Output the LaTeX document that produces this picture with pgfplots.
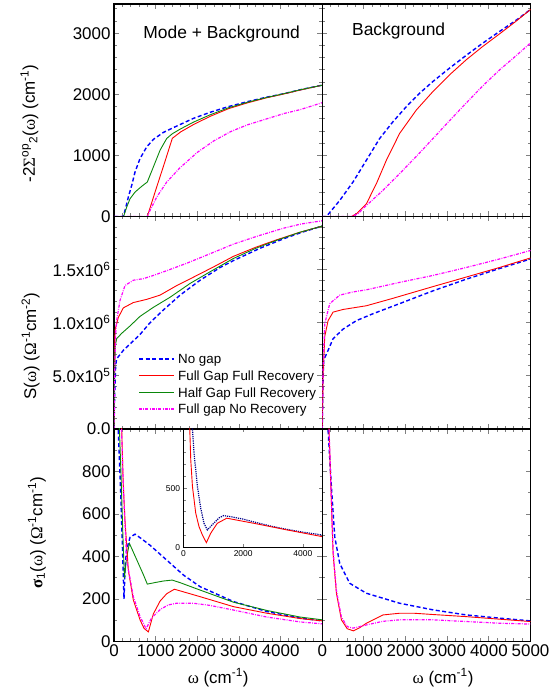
\documentclass[border=0pt]{standalone}
\usepackage{fontspec}
\setmainfont{Liberation Sans}
\newfontfamily\grk{Liberation Serif}
\usepackage{pgfplots}
\pgfplotsset{compat=1.18}

\definecolor{ngblue}{RGB}{0,0,255}
\definecolor{fgred}{RGB}{255,0,0}
\definecolor{hggreen}{RGB}{10,135,10}
\definecolor{nrmag}{RGB}{255,0,255}
\definecolor{insetblue}{RGB}{0,0,140}

\newcommand{\om}{{\grk ω}}

\tikzset{
  nogap/.style={dash pattern=on 4bp off 2.5bp, line width=1.4bp, color=ngblue, draw=ngblue},
  fullgap/.style={line width=0.9bp, color=fgred, draw=fgred},
  halfgap/.style={line width=0.9bp, color=hggreen, draw=hggreen},
  norec/.style={dash pattern=on 3bp off 1.3bp on 0.8bp off 1.3bp, line width=1.2bp, color=nrmag, draw=nrmag},
  legtext/.style={anchor=base west, inner sep=0pt, font=\fontsize{13.4}{14}\selectfont},
}

\pgfplotsset{
  panel/.style={
    scale only axis, width=208.25bp, height=212.5bp, anchor=south west,
    xmin=0, xmax=5000,
    xtick={0,1000,...,5000}, minor xtick={0,200,...,5000},
    tick align=inside, major tick length=5bp, minor tick length=3bp,
    axis line style={line width=1.1bp},
    tick style={line width=0.9bp},
    tick label style={font=\fontsize{17}{17}\selectfont},
    label style={font=\fontsize{17}{20}\selectfont},
    /pgf/number format/assume math mode=true,
    /pgf/number format/1000 sep={},
    scaled ticks=false,
    xticklabels={},
  },
}

\begin{document}
\begin{tikzpicture}
\path[use as bounding box] (0,0) rectangle (559bp,693bp);

% ---------- top left: self energy, mode + background
\begin{axis}[panel, at={(114bp,476.5bp)},
  ymin=0, ymax=3480, ytick={0,1000,2000,3000}, minor ytick={0,200,...,3400},
  ylabel={-2{\grk Σ}\textsuperscript{op}\textsubscript{2}(\om) (cm\textsuperscript{-1})},
  ylabel style={at={(axis description cs:-0.406,0.438)}, anchor=center}]
\addplot[nogap] coordinates {(0,0)(220,0)(264,99)(344,318)(425,510)(505,729)(625,949)(785,1140)(945,1262)(1185,1377)(1507,1481)(1907,1607)(2308,1706)(2748,1800)(3200,1880)(3671,1955)(4070,2010)(4500,2080)(5000,2151)};
\addplot[fullgap] coordinates {(0,0)(800,0)(1000,430)(1200,850)(1400,1280)(1600,1385)(1907,1505)(2308,1640)(2748,1765)(3200,1860)(3671,1945)(4070,2005)(4500,2075)(5000,2150)};
\addplot[halfgap] coordinates {(0,0)(230,0)(250,40)(305,153)(385,291)(505,400)(665,494)(800,565)(945,811)(1106,1086)(1266,1278)(1400,1355)(1600,1435)(1907,1545)(2308,1665)(2748,1780)(3200,1870)(3671,1950)(4070,2010)(4500,2080)(5000,2150)};
\addplot[norec] coordinates {(0,0)(800,0)(865,99)(1026,318)(1266,565)(1587,800)(2000,1050)(2400,1240)(2800,1390)(3200,1500)(3671,1600)(4100,1690)(4471,1750)(5000,1864)};
\node[font=\fontsize{17.5}{18}\selectfont] at (axis description cs:0.517,0.861) {Mode + Background};
\end{axis}

% ---------- top right: self energy, background
\begin{axis}[panel, at={(322.25bp,476.5bp)},
  ymin=0, ymax=3480, ytick={0,1000,2000,3000}, minor ytick={0,200,...,3400},
  yticklabels={}]
\addplot[nogap] coordinates {(0,0)(100,0)(420,263)(739,565)(1060,922)(1379,1278)(1698,1552)(2019,1799)(2338,2019)(2657,2211)(3057,2430)(3458,2640)(3856,2840)(4256,3030)(4657,3215)(5000,3390)};
\addplot[fullgap] coordinates {(0,0)(700,0)(820,44)(1060,209)(1300,538)(1540,922)(1858,1361)(2259,1744)(2657,2046)(3057,2320)(3458,2567)(3856,2786)(4256,2990)(4657,3200)(5000,3390)};
\addplot[norec] coordinates {(0,0)(700,0)(850,40)(1060,181)(1458,428)(1858,702)(2259,985)(2657,1275)(3057,1570)(3458,1860)(3856,2140)(4256,2400)(4657,2635)(5000,2842)};
\node[font=\fontsize{17.5}{18}\selectfont] at (axis description cs:0.367,0.874) {Background};
\end{axis}

% ---------- middle left: spectral weight
\begin{axis}[panel, at={(114bp,264bp)},
  ymin=0, ymax=2000000, ytick={0,500000,1000000,1500000},
  yticklabels={0.0,5.0x10\textsuperscript{5},1.0x10\textsuperscript{6},1.5x10\textsuperscript{6}},
  minor ytick={0,100000,...,2000000},
  ylabel={S(\om) ({\grk Ω}\textsuperscript{-1}cm\textsuperscript{-2})},
  ylabel style={at={(axis description cs:-0.401,0.39)}, anchor=center}]
\addplot[nogap] coordinates {(0,0)(15,0.3e6)(40,0.6e6)(64,0.66e6)(224,0.74e6)(385,0.80e6)(625,0.89e6)(865,1.0e6)(1185,1.12e6)(1587,1.26e6)(2067,1.40e6)(2548,1.52e6)(2868,1.585e6)(3500,1.70e6)(4070,1.79e6)(4500,1.85e6)(5000,1.91e6)};
\addplot[fullgap] coordinates {(0,0)(12,0.5e6)(24,0.93e6)(104,1.05e6)(224,1.14e6)(464,1.19e6)(785,1.22e6)(1106,1.26e6)(1507,1.35e6)(1988,1.445e6)(2387,1.525e6)(2868,1.625e6)(3400,1.71e6)(3900,1.78e6)(4450,1.85e6)(5000,1.91e6)};
\addplot[halfgap] coordinates {(0,0)(15,0.5e6)(30,0.78e6)(64,0.85e6)(184,0.90e6)(385,0.97e6)(625,1.06e6)(945,1.145e6)(1346,1.24e6)(1827,1.37e6)(2308,1.48e6)(2868,1.605e6)(3400,1.70e6)(3900,1.775e6)(4450,1.85e6)(5000,1.91e6)};
\addplot[norec] coordinates {(0,0)(20,0.6e6)(40,0.9e6)(64,1.02e6)(144,1.21e6)(264,1.35e6)(464,1.40e6)(704,1.415e6)(945,1.445e6)(1266,1.49e6)(1748,1.56e6)(2308,1.65e6)(2868,1.74e6)(3400,1.81e6)(4070,1.89e6)(4500,1.93e6)(5000,1.96e6)};
\end{axis}

% ---------- legend, drawn as a small hidden axis
\begin{axis}[at={(139bp,275.67bp)}, anchor=south west, scale only axis,
  width=35bp, height=66.67bp, xmin=0, xmax=1, ymin=-0.5, ymax=3.5,
  hide axis, clip mode=individual]
\addplot[nogap] coordinates {(0,3)(1,3)};
\addplot[fullgap] coordinates {(0,2)(1,2)};
\addplot[halfgap] coordinates {(0,1)(1,1)};
\addplot[norec] coordinates {(0,0)(1,0)};
\node[legtext] at ([xshift=4bp,yshift=-4.8bp]axis cs:1,3) {No gap};
\node[legtext] at ([xshift=4bp,yshift=-4.8bp]axis cs:1,2) {Full Gap Full Recovery};
\node[legtext] at ([xshift=4bp,yshift=-4.8bp]axis cs:1,1) {Half Gap Full Recovery};
\node[legtext] at ([xshift=4bp,yshift=-4.8bp]axis cs:1,0) {Full gap No Recovery};
\end{axis}

% ---------- middle right
\begin{axis}[panel, at={(322.25bp,264bp)},
  ymin=0, ymax=2000000, ytick={0,500000,1000000,1500000},
  minor ytick={0,100000,...,2000000}, yticklabels={}]
\addplot[nogap] coordinates {(0,0)(15,0.4e6)(36,0.65e6)(140,0.74e6)(260,0.85e6)(500,0.94e6)(820,1.02e6)(1218,1.085e6)(1858,1.18e6)(2657,1.30e6)(3458,1.41e6)(4256,1.51e6)(5000,1.60e6)};
\addplot[fullgap] coordinates {(0,0)(20,0.5e6)(60,0.87e6)(140,1.02e6)(260,1.10e6)(500,1.125e6)(1060,1.16e6)(1698,1.23e6)(2657,1.34e6)(3458,1.43e6)(4256,1.52e6)(5000,1.61e6)};
\addplot[norec] coordinates {(0,0)(20,0.6e6)(60,0.99e6)(180,1.18e6)(420,1.26e6)(739,1.29e6)(1060,1.31e6)(1858,1.38e6)(2657,1.445e6)(3458,1.52e6)(4256,1.60e6)(5000,1.68e6)};
\end{axis}

% ---------- bottom left: optical conductivity
\begin{axis}[panel, at={(114bp,51.5bp)},
  ymin=0, ymax=1000, ytick={0,200,...,800}, minor ytick={0,100,...,1000},
  xticklabels={0,1000,2000,3000,4000,{}},
  xlabel={\om{} (cm\textsuperscript{-1})},
  xlabel style={at={(axis description cs:0.5,0)}, anchor=north, yshift=-27bp, inner sep=0pt},
  ylabel={{\grk\bfseries σ}\textsubscript{1}(\om) ({\grk Ω}\textsuperscript{-1}cm\textsuperscript{-1})},
  ylabel style={at={(axis description cs:-0.37,0.511)}, anchor=center}]
\addplot[nogap] coordinates {(60,1300)(100,1000)(150,760)(200,460)(240,200)(270,360)(300,430)(385,490)(505,505)(650,485)(865,453)(1266,383)(1666,313)(2067,258)(2868,188)(3671,141)(4471,110)(5000,97)};
\addplot[halfgap] coordinates {(100,1300)(130,1000)(170,780)(210,520)(250,300)(300,390)(369,462)(500,405)(600,361)(700,317)(800,270)(1000,278)(1200,285)(1400,289)(1600,276)(2067,242)(2868,185)(3671,146)(4471,115)(5000,102)};
\addplot[fullgap] coordinates {(150,1300)(185,1000)(220,750)(264,570)(344,336)(464,195)(625,102)(720,62)(825,45)(945,130)(1106,190)(1266,225)(1450,246)(2067,211)(2868,164)(3671,133)(4471,108)(5000,97)};
\addplot[norec] coordinates {(140,1300)(180,1000)(230,700)(305,383)(464,211)(625,117)(770,60)(900,110)(1106,150)(1300,172)(1500,180)(1907,180)(2300,170)(2868,148)(3671,115)(4471,92)(5000,83)};
\end{axis}

% ---------- inset
\begin{axis}[at={(183.5bp,145.7bp)}, anchor=south west, scale only axis,
  width=138.75bp, height=118.3bp, xmin=0, xmax=4650, ymin=0, ymax=1000,
  xtick={0,2000,4000}, ytick={0,500}, minor ytick={0,100,...,1000},
  tick align=inside, major tick length=3.5bp, minor tick length=2bp,
  axis line style={line width=0.9bp}, tick style={line width=0.7bp},
  tick label style={font=\fontsize{8.5}{9}\selectfont},
  /pgf/number format/assume math mode=true, /pgf/number format/1000 sep={},
  scaled ticks=false, axis background/.style={fill=white}]
\addplot[draw=insetblue, line width=1.2bp, densely dotted] coordinates {(270,1200)(300,1000)(353,797)(467,514)(577,330)(687,203)(800,147)(1000,200)(1200,250)(1345,268)(1600,258)(2000,238)(2500,205)(3000,175)(3500,150)(4000,128)(4650,104)};
\addplot[fullgap] coordinates {(190,1200)(210,1000)(243,740)(300,514)(410,288)(520,175)(633,104)(767,39)(910,118)(1133,203)(1450,246)(2353,203)(3467,147)(4650,90)};
\end{axis}

% ---------- bottom right
\begin{axis}[panel, at={(322.25bp,51.5bp)},
  ymin=0, ymax=1000, ytick={0,200,...,800}, minor ytick={0,100,...,1000},
  yticklabels={}, xticklabels={0,1000,2000,3000,4000,5000},
  xlabel={\om{} (cm\textsuperscript{-1})},
  xlabel style={at={(axis description cs:0.58,0)}, anchor=north, yshift=-27bp, inner sep=0pt}]
\addplot[nogap] coordinates {(120,1300)(140,993)(220,727)(300,492)(420,367)(659,274)(1060,227)(1858,180)(2657,149)(3458,125)(4256,110)(5000,97)};
\addplot[fullgap] coordinates {(150,1300)(163,993)(220,649)(260,414)(340,227)(460,102)(600,60)(750,50)(900,65)(1060,86)(1458,125)(1858,133)(2200,133)(2657,127)(3458,117)(4256,105)(5000,94)};
\addplot[norec] coordinates {(150,1300)(165,993)(220,660)(260,430)(340,240)(460,115)(600,70)(739,63)(900,70)(1060,78)(1458,95)(1858,102)(2657,102)(3458,94)(4256,86)(5000,82)};
\end{axis}
\end{tikzpicture}
\end{document}
